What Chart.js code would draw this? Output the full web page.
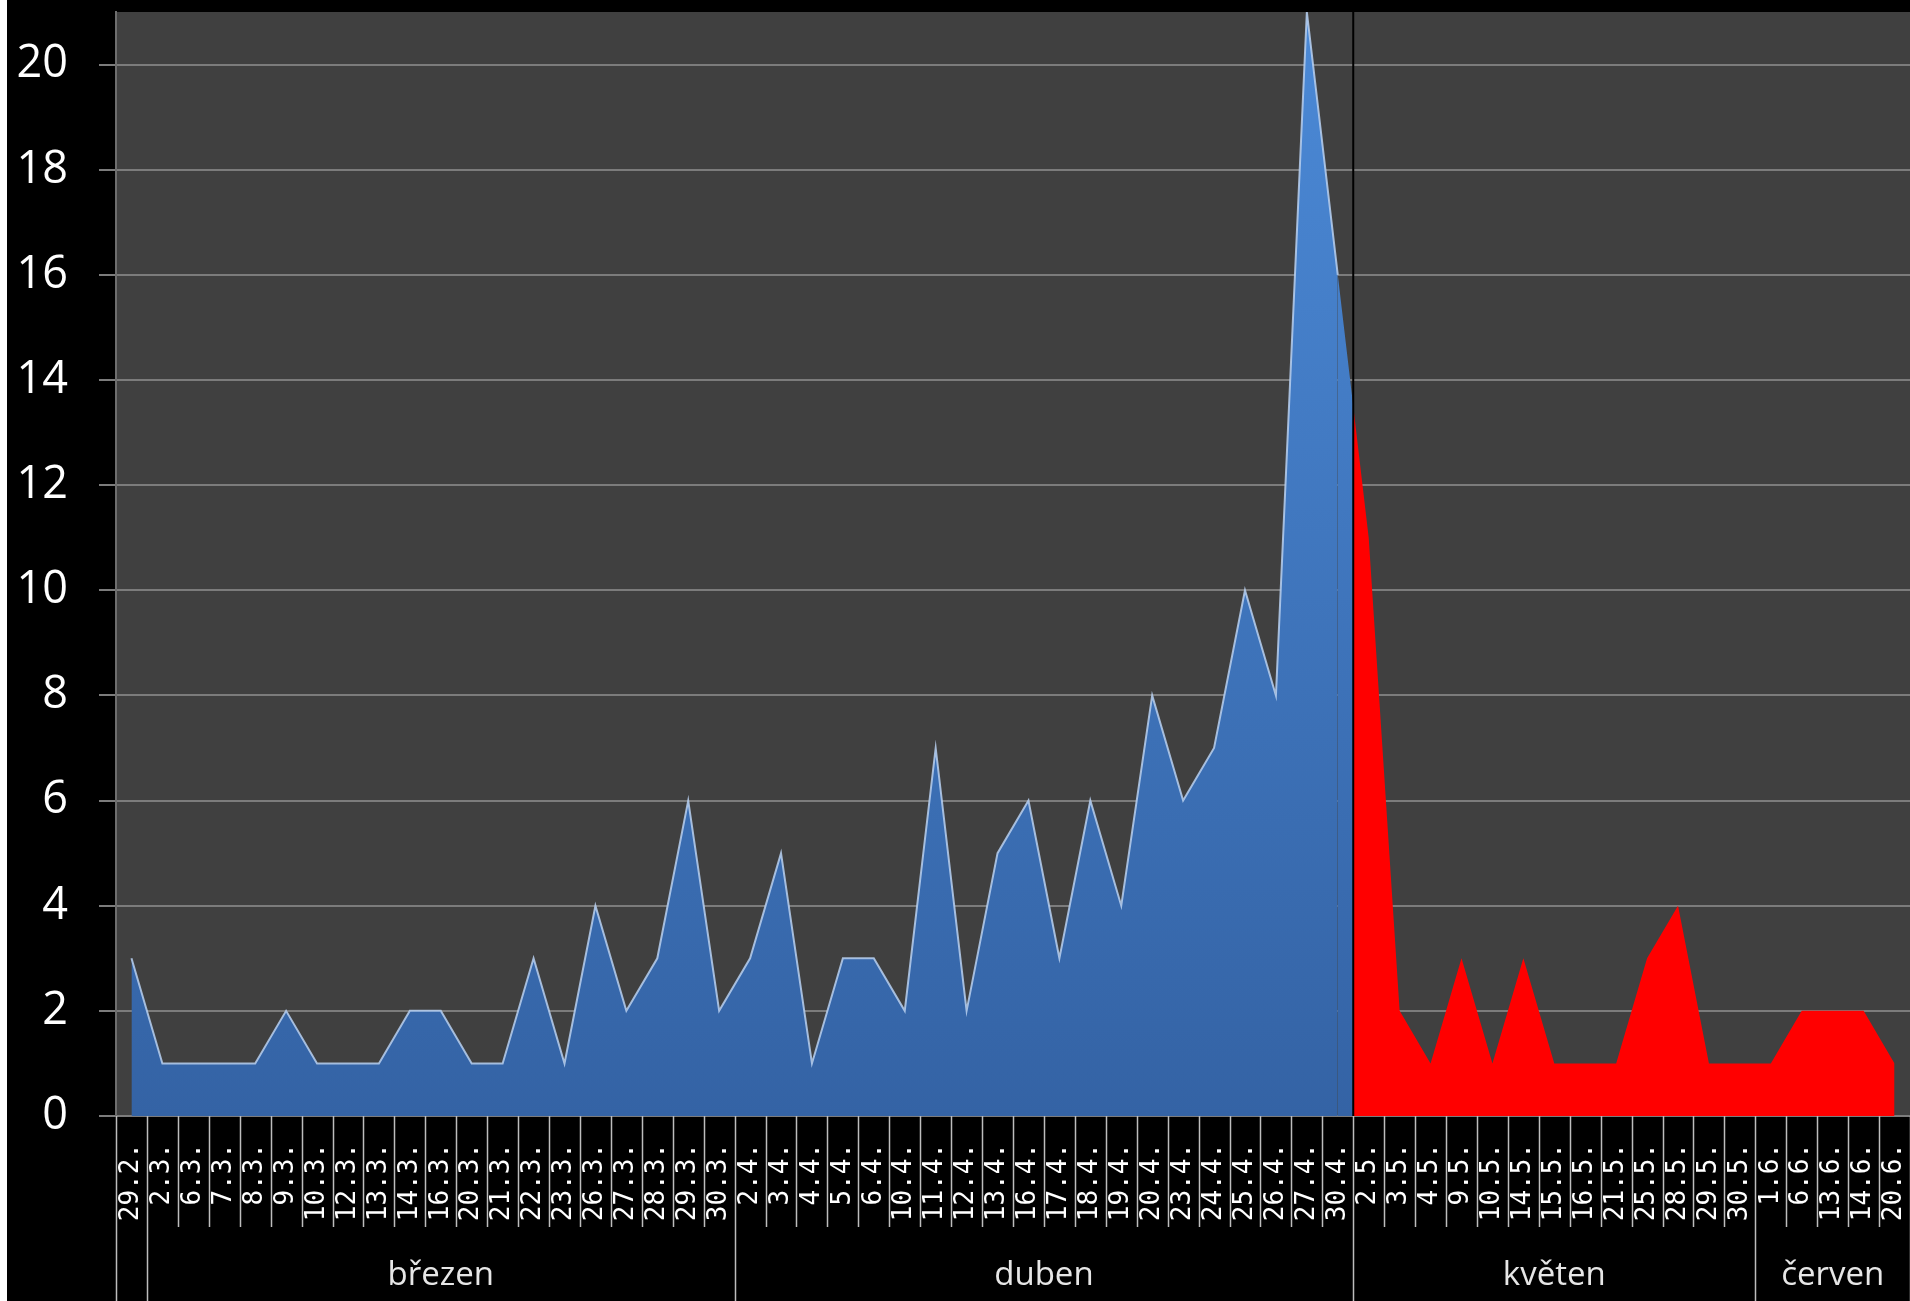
<!DOCTYPE html>
<html>
<head>
<meta charset="utf-8">
<script src="https://cdn.jsdelivr.net/npm/chart.js@4/dist/chart.umd.min.js"></script>
<style>
  html, body { margin: 0; padding: 0; background: #fff; overflow: hidden; }
  #wrap { position: absolute; left: 7px; top: 0; width: 1903px; height: 1301px; background: #000; }
</style>
</head>
<body>
<div id="wrap"><canvas id="chart"></canvas></div>
<script>
// dny s hlášením a počty
const dates = ['29.2.', '2.3.', '6.3.', '7.3.', '8.3.', '9.3.', '10.3.', '12.3.', '13.3.', '14.3.',
  '16.3.', '20.3.', '21.3.', '22.3.', '23.3.', '26.3.', '27.3.', '28.3.', '29.3.', '30.3.',
  '2.4.', '3.4.', '4.4.', '5.4.', '6.4.', '10.4.', '11.4.', '12.4.', '13.4.', '16.4.',
  '17.4.', '18.4.', '19.4.', '20.4.', '23.4.', '24.4.', '25.4.', '26.4.', '27.4.', '30.4.',
  '2.5.', '3.5.', '4.5.', '9.5.', '10.5.', '14.5.', '15.5.', '16.5.', '21.5.', '25.5.',
  '28.5.', '29.5.', '30.5.', '1.6.', '6.6.', '13.6.', '14.6.', '20.6.'];
const counts = [3, 1, 1, 1, 1, 2, 1, 1, 1, 2,
  2, 1, 1, 3, 1, 4, 2, 3, 6, 2,
  3, 5, 1, 3, 3, 2, 7, 2, 5, 6,
  3, 6, 4, 8, 6, 7, 10, 8, 21, 16,
  11, 2, 1, 3, 1, 3, 1, 1, 1, 3,
  4, 1, 1, 1, 2, 2, 2, 1];
const months = ['', 'březen', 'duben', 'květen', 'červen'];
const monthSizes = [1, 19, 20, 13, 5];
const yTicks = [0, 2, 4, 6, 8, 10, 12, 14, 16, 18, 20];

// od května červeně
const redFrom = monthSizes[0] + monthSizes[1] + monthSizes[2];

function boundaryX(xs, i) {
  const half = (xs.getPixelForValue(1) - xs.getPixelForValue(0)) / 2;
  return xs.getPixelForValue(i) - half;
}

function noPad(s) {
  s.paddingTop = 0;
  s.paddingBottom = 0;
  s.paddingLeft = 0;
  s.paddingRight = 0;
}

let fillCache = null;
function areaFill(chart) {
  const a = chart.chartArea;
  const xs = chart.scales.x;
  const bx = boundaryX(xs, redFrom);
  const key = chart.width + 'x' + chart.height + ':' + bx + ':' + a.top;
  if (fillCache && fillCache.key === key) return fillCache.pattern;
  const off = document.createElement('canvas');
  off.width = chart.width;
  off.height = chart.height;
  const c = off.getContext('2d');
  const g = c.createLinearGradient(0, a.top, 0, a.bottom);
  g.addColorStop(0, '#4b89d6');
  g.addColorStop(1, '#3463a5');
  c.fillStyle = g;
  c.fillRect(0, 0, bx, off.height);
  c.fillStyle = '#ff0000';
  c.fillRect(bx, 0, off.width - bx, off.height);
  const pattern = chart.ctx.createPattern(off, 'no-repeat');
  fillCache = { key, pattern };
  return pattern;
}

const plotBg = {
  id: 'plotBg',
  beforeDraw(chart) {
    const { ctx, chartArea: a } = chart;
    ctx.save();
    ctx.fillStyle = '#404040';
    ctx.fillRect(a.left, a.top, a.right - a.left, a.bottom - a.top);
    ctx.restore();
  },
  afterDatasetsDraw(chart) {
    const { ctx, chartArea: a } = chart;
    const x = boundaryX(chart.scales.x, redFrom);
    ctx.save();
    ctx.strokeStyle = '#000';
    ctx.lineWidth = 2;
    ctx.beginPath();
    ctx.moveTo(x, a.top);
    ctx.lineTo(x, a.bottom);
    ctx.stroke();
    ctx.restore();
  }
};

// dělítka pod osou a názvy měsíců
const monthAxis = {
  id: 'monthAxis',
  afterDraw(chart) {
    const { ctx, chartArea: a } = chart;
    const xs = chart.scales.x;
    const starts = [0];
    monthSizes.forEach((n, i) => starts.push(starts[i] + n));
    ctx.save();
    ctx.strokeStyle = '#bdbdbd';
    ctx.lineWidth = 1.5;
    for (let i = 0; i <= dates.length; i++) {
      const x = Math.round(boundaryX(xs, i)) + 0.5;
      const long = starts.includes(i);
      ctx.beginPath();
      ctx.moveTo(x, a.bottom);
      ctx.lineTo(x, long ? chart.height : a.bottom + 111);
      ctx.stroke();
    }
    ctx.fillStyle = '#e6e6e6';
    ctx.font = '33px "Open Sans"';
    ctx.textAlign = 'center';
    ctx.textBaseline = 'middle';
    months.forEach((m, i) => {
      if (!m) return;
      const x0 = boundaryX(xs, starts[i]);
      const x1 = Math.min(boundaryX(xs, starts[i + 1]), a.right);
      ctx.fillText(m, (x0 + x1) / 2, a.bottom + 160);
    });
    ctx.restore();
  }
};

new Chart(document.getElementById('chart'), {
  type: 'line',
  data: {
    labels: dates,
    datasets: [{
      data: counts,
      fill: 'origin',
      tension: 0,
      pointRadius: 0,
      borderWidth: 2,
      borderColor: 'rgba(185,208,240,0.85)',
      backgroundColor: ctx => ctx.chart.chartArea ? areaFill(ctx.chart) : '#3d74bd',
      segment: {
        borderColor: ctx => ctx.p0DataIndex >= redFrom - 1 ? 'rgba(0,0,0,0)' : undefined
      }
    }]
  },
  options: {
    responsive: true,
    maintainAspectRatio: false,
    animation: false,
    layout: { autoPadding: false, padding: { top: 12, right: 0, left: 0, bottom: 0 } },
    plugins: { legend: { display: false }, tooltip: { enabled: false } },
    scales: {
      x: {
        type: 'category',
        offset: true,
        grid: { display: false, drawTicks: false },
        border: { display: false },
        ticks: {
          color: '#ffffff',
          font: { family: 'DejaVu Sans Mono', size: 26 },
          minRotation: 90,
          maxRotation: 90,
          autoSkip: false,
          padding: 27
        },
        afterFit: s => { s.height = 185; noPad(s); }
      },
      y: {
        min: 0,
        max: 21,
        afterBuildTicks: s => { s.ticks = yTicks.map(v => ({ value: v })); },
        grid: { color: '#7c7c7c', lineWidth: 2, tickLength: 17 },
        border: { display: true, color: '#6e6e6e', width: 2 },
        ticks: {
          color: '#ffffff',
          font: { family: 'Open Sans', size: 45 },
          padding: 31
        },
        afterFit: s => { s.width = 109; noPad(s); }
      }
    }
  },
  plugins: [plotBg, monthAxis]
});
</script>
</body>
</html>
